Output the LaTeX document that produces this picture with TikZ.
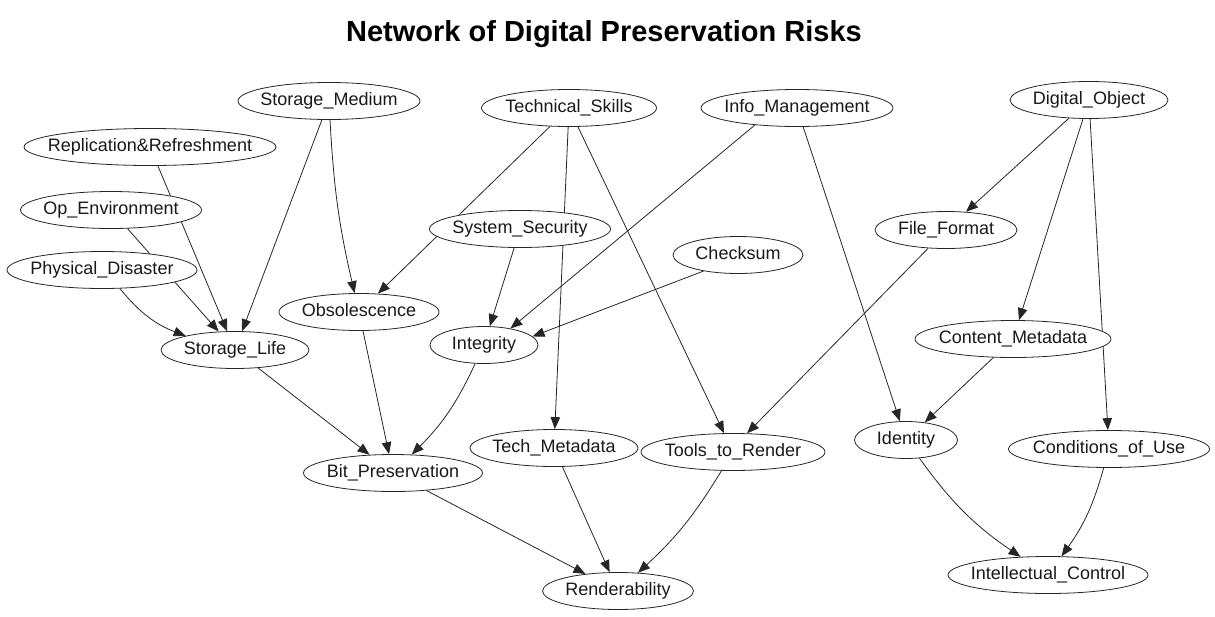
\documentclass[tikz,border=0pt]{standalone}
\usepackage{fontspec}
\setmainfont{Liberation Sans}
\usetikzlibrary{shapes.geometric,arrows.meta,backgrounds}
\newcommand\ndfont{\fontsize{18pt}{20pt}\selectfont}
\newcommand\ndnode[4]{%
  \node[nd, minimum width=#3pt] (#1) at (#2) {\makebox[0pt]{#4}};}
\tikzset{
  nd/.style={ellipse, draw=black!85, line width=0.8pt, fill=white,
    minimum height=37pt, inner sep=0pt, font=\ndfont, text=black!90,
    text height=13pt, text depth=4pt},
  ed/.style={draw=black!85, line width=0.8pt,
    -{Triangle[length=12pt,width=9.5pt]}},
  ttl/.style={font=\fontsize{29pt}{32pt}\selectfont\bfseries, text=black}
}
\begin{document}
\begin{tikzpicture}[x=1pt,y=-1pt]
\useasboundingbox (0,0) rectangle (1215,616);
\node[ttl] (title) at (604,34) {Network of Digital Preservation Risks};

\ndnode{sm}{329,101}{182}{Storage\_Medium}
\ndnode{rr}{150,147}{252}{Replication\&Refreshment}
\ndnode{oe}{111,210}{181}{Op\_Environment}
\ndnode{pd}{102,270}{190}{Physical\_Disaster}
\ndnode{sl}{235,350}{148}{Storage\_Life}
\ndnode{obs}{359,312}{160}{Obsolescence}
\ndnode{ts}{569,108}{175}{Technical\_Skills}
\ndnode{ss}{520,229}{181}{System\_Security}
\ndnode{int}{484,345}{108}{Integrity}
\ndnode{im}{797,108}{192}{Info\_Management}
\ndnode{ck}{738,255}{130}{Checksum}
\ndnode{do}{1089,100}{158}{Digital\_Object}
\ndnode{ff}{946,230}{142}{File\_Format}
\ndnode{cm}{1013,339}{196}{Content\_Metadata}
\ndnode{id}{906,440}{103}{Identity}
\ndnode{cu}{1109,449}{201}{Conditions\_of\_Use}
\ndnode{tm}{554,448}{168}{Tech\_Metadata}
\ndnode{tr}{733,452}{184}{Tools\_to\_Render}
\ndnode{bp}{393,473}{179}{Bit\_Preservation}
\ndnode{rd}{618,591}{151}{Renderability}
\ndnode{ic}{1048,575}{200}{Intellectual\_Control}

\begin{scope}[on background layer]
\draw[ed] (rr) -- (sl);
\draw[ed] (oe) -- (sl);
\draw[ed] (pd) to[bend right=15] (sl);
\draw[ed] (sm) -- (sl);
\draw[ed] (sm) to[bend right=5] (obs);
\draw[ed] (ts) -- (obs);
\draw[ed] (ts) -- (tm);
\draw[ed] (ts) -- (tr);
\draw[ed] (ss) -- (int);
\draw[ed] (im.-158) -- (int.32);
\draw[ed] (ck.-155) -- (int.10);
\draw[ed] (im) -- (id);
\draw[ed] (do) -- (ff);
\draw[ed] (do) -- (cm);
\draw[ed] (do) -- (cu);
\draw[ed] (ff) -- (tr.53);
\draw[ed] (cm) -- (id);
\draw[ed] (id) to[bend right=10] (ic);
\draw[ed] (cu) to[bend left=10] (ic);
\draw[ed] (sl) -- (bp);
\draw[ed] (obs) -- (bp);
\draw[ed] (int) to[bend left=10] (bp);
\draw[ed] (bp) -- (rd);
\draw[ed] (tm) -- (rd);
\draw[ed] (tr) to[bend left=8] (rd);
\end{scope}
\end{tikzpicture}
\end{document}
